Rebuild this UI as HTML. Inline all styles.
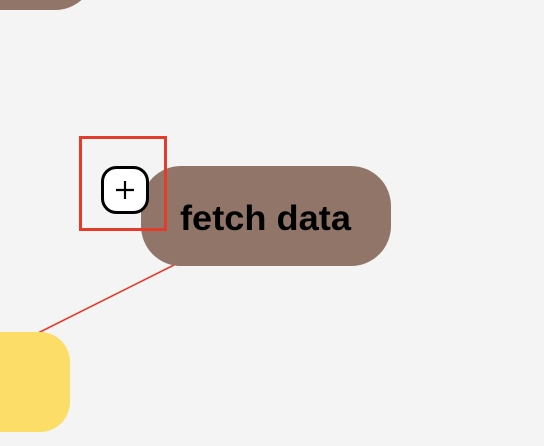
<!DOCTYPE html>
<html><head><style>html,body{margin:0;padding:0;background:#f4f4f4;}</style></head>
<body>
<svg width="544" height="446" xmlns="http://www.w3.org/2000/svg" style="display:block">
<rect width="544" height="446" fill="#f4f4f4"/>
<rect x="-60" y="-90" width="155" height="100" rx="40" fill="#917568"/>
<line x1="176" y1="264" x2="38" y2="333" stroke="#e43c2a" stroke-width="1.6"/>
<rect x="-60" y="332" width="130" height="100" rx="30" fill="#fbdd68"/>
<rect x="141" y="166" width="250" height="100" rx="40" fill="#917568"/>
<text x="180" y="230" font-family="Liberation Sans, sans-serif" font-size="35" font-weight="bold" fill="#000" textLength="171" lengthAdjust="spacingAndGlyphs">fetch data</text>
<rect x="80.5" y="137.5" width="85" height="92" fill="none" stroke="#e43c2a" stroke-width="3"/>
<rect x="102.5" y="167.5" width="45" height="45" rx="14" fill="#fff" stroke="#000" stroke-width="3"/>
<line x1="125" y1="181" x2="125" y2="199" stroke="#000" stroke-width="2.2"/>
<line x1="116" y1="190" x2="134" y2="190" stroke="#000" stroke-width="2.2"/>
</svg>
</body></html>
